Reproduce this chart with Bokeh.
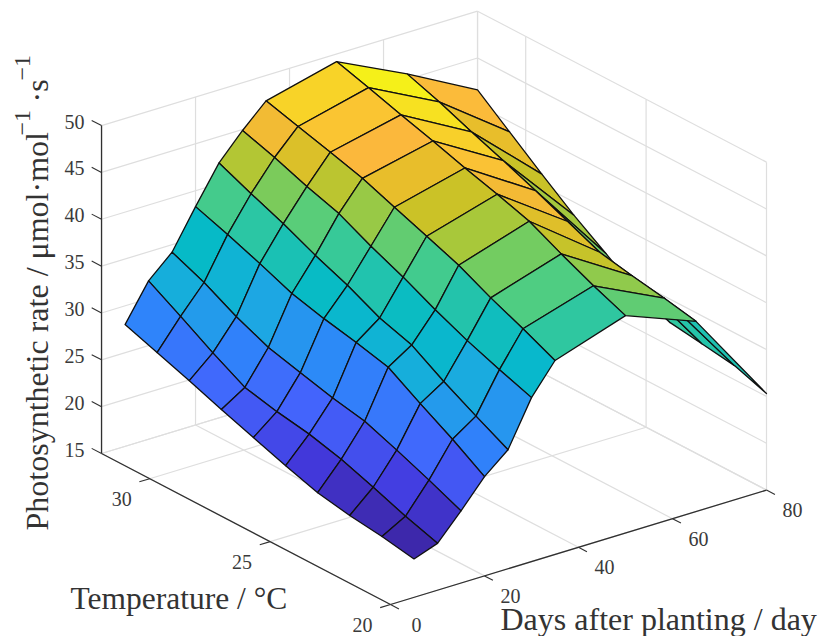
import numpy as np
from bokeh.plotting import figure
from bokeh.models import Range1d
from bokeh.core.properties import value
from bokeh.embed import file_html
from bokeh.resources import INLINE

days = [5, 10, 15, 20, 25, 30, 35, 50, 65, 80]
temps = [20, 21.33, 22.67, 24, 25.33, 26.67, 28, 29.33, 30.67, 32]
z_d5 = [19.1, 19.7, 20.15, 20.8, 21.9, 23.1, 24.3, 25.6, 26.8, 28.0]
z_d10 = [20.0, 21.1, 22.4, 23.6, 24.5, 25.1, 25.9, 27.8, 29.9, 31.9]
z_d15 = [22.7, 24.2, 25.6, 26.9, 27.6, 28.5, 29.4, 30.9, 32.75, 34.2]
z_d20 = [25.6, 27.8, 29.8, 31.9, 32.75, 33.5, 34.4, 35.8, 37.1, 38.3]
z_d25 = [27.7, 29.5, 31.4, 33.5, 34.6, 36.3, 37.7, 39.3, 40.7, 42.2]
z_d30 = [32.5, 33.7, 35.0, 36.5, 38.2, 39.7, 41.4, 42.5, 43.8, 44.9]
z_d35 = [35.7, 37.3, 38.8, 40.5, 41.8, 43.1, 44.4, 45.4, 46.35, 47.3]
z_d50 = [38.2, 39.6, 41.2, 42.9, 44.0, 45.0, 46.1, 47.1, 48.2, 49.2]
z_d65 = [35.3, 36.0, 36.6, 37.3, 38.8, 40.3, 41.7, 43.0, 44.4, 45.6]
z_d80 = [25.3, 26.5, 27.0, 27.5, 28.9, 31.3, 33.6, 36.2, 38.9, 41.6]
Z = np.array([z_d5, z_d10, z_d15, z_d20, z_d25, z_d30, z_d35, z_d50, z_d65, z_d80])

day_ticks = [0, 20, 40, 60, 80]
temp_ticks = [20, 25, 30]
z_ticks = [15, 20, 25, 30, 35, 40, 45, 50]
D0, D1, T0, T1, Z0, Z1 = 0, 80, 20, 32, 15, 50

# View: orthographic projection onto page pixels
def sx(d, t, z=15):
    return 390 + 4.7 * np.asarray(d, float) - 24.08 * (np.asarray(t, float) - 20)

def sy(d, t, z=15):
    return (604 - 1.43 * np.asarray(d, float) - 12.58 * (np.asarray(t, float) - 20)
            - 9.37 * (np.asarray(z, float) - 15))

# parula-like colour map as seen in the picture
stops = [0, .1, .2, .3, .4, .5, .6, .65, .71, .754, .797, .84, .874, .937, 1]
rgb = np.array([(59, 36, 158), (67, 58, 222), (67, 100, 252), (46, 133, 250), (28, 170, 225),
                (5, 186, 200), (44, 198, 163), (76, 205, 133), (114, 204, 98), (168, 200, 58),
                (203, 194, 39), (232, 190, 43), (251, 184, 60), (248, 211, 40), (245, 240, 25)], float)

def cmap(v):
    t = (v - Z.min()) / (Z.max() - Z.min())
    c = [int(round(np.interp(t, stops, rgb[:, k]))) for k in range(3)]
    return "#%02x%02x%02x" % tuple(c)

W, H = 819, 636
p = figure(width=W, height=H, output_backend="svg", toolbar_location=None,
           x_range=Range1d(0, W), y_range=Range1d(H, 0), min_border=0,
           x_axis_type=None, y_axis_type=None, outline_line_color=None)
p.grid.visible = False

GRID = "#dedede"
AX = "#303030"

def seg(a, b, color=GRID, w=1.2):
    p.line([float(sx(a[0], a[1])), float(sx(b[0], b[1]))],
           [float(sy(*a)), float(sy(*b))], line_color=color, line_width=w)

# back walls and floor grid
for d in day_ticks:
    seg((d, T0, Z0), (d, T1, Z0))
    seg((d, T1, Z0), (d, T1, Z1))
for t in temp_ticks:
    seg((D0, t, Z0), (D1, t, Z0))
    seg((D1, t, Z0), (D1, t, Z1))
seg((D1, T1, Z0), (D1, T1, Z1))
seg((D0, T1, Z0), (D1, T1, Z0))
for z in z_ticks:
    seg((D0, T1, z), (D1, T1, z))
    seg((D1, T1, z), (D1, T0, z))

# surface, back to front
xs, ys, fills = [], [], []
for i in range(len(days) - 2, -1, -1):
    for j in range(len(temps) - 2, -1, -1):
        idx = [(i, j), (i + 1, j), (i + 1, j + 1), (i, j + 1)]
        xs.append([float(sx(days[a], temps[b])) for a, b in idx])
        ys.append([float(sy(days[a], temps[b], Z[a, b])) for a, b in idx])
        fills.append(cmap(Z[i, j + 1]))
p.patches(xs, ys, fill_color=fills, fill_alpha=1, line_color="#101010", line_width=1.3, line_join="round")

# axes and ticks
seg((D0, T1, Z0), (D0, T1, Z1), AX, 1.3)
seg((D0, T1, Z0), (D0, T0, Z0), AX, 1.3)
seg((D0, T0, Z0), (D1, T0, Z0), AX, 1.3)
for z in z_ticks:
    seg((D0, T1, z), (D0, T1 + 0.41, z), AX, 1.1)
for t in temp_ticks:
    seg((D0, t, Z0), (D0 - 2.2, t, Z0), AX, 1.1)
for d in day_ticks:
    seg((d, T0, Z0), (d, T0 - 0.35, Z0), AX, 1.1)

FONT = value("Liberation Serif")
TICK = "#3a3a3a"

def label(x, y, s, size=20, align="center", base="middle", angle=0, color=TICK):
    p.text([x], [y], text=[s], text_font=FONT, text_font_size=f"{size}px", text_color=color,
           text_align=align, text_baseline=base, angle=angle)

for z in z_ticks:
    label(float(sx(D0, T1)) - 17, float(sy(D0, T1, z)) - 4, str(z), align="right")
for t in temp_ticks:
    label(float(sx(D0, t)) - 28, float(sy(D0, t)) + 20, str(t))
for d in day_ticks:
    label(float(sx(d, T0)) + 26, float(sy(d, T0)) + 20, str(d))

LAB = "#333333"
label(70, 598, "Temperature / °C", 31.5, "left", "alphabetic", color=LAB)
label(500, 618, "Days after planting / day", 32, "left", "alphabetic", color=LAB)
up = np.pi / 2
label(36, 530, "Photosynthetic rate / μmol·mol", 32, "left", "alphabetic", up, LAB)
label(22, 135, "−1", 24, "left", "alphabetic", up, LAB)
label(36, 102, "·s", 32, "left", "alphabetic", up, LAB)
label(22, 80, "−1", 24, "left", "alphabetic", up, LAB)

open("out.html", "w").write(file_html(p, INLINE))
